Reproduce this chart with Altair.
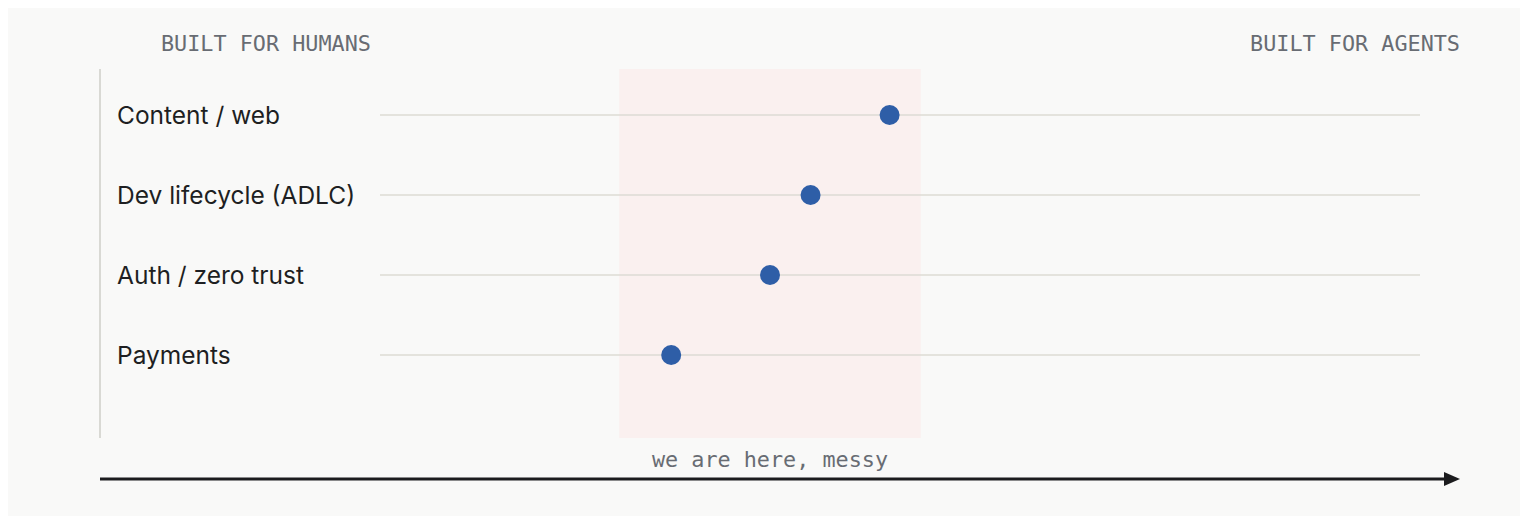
import altair as alt
import pandas as pd

# ---- data ----
categories = ["Content / web", "Dev lifecycle (ADLC)", "Auth / zero trust", "Payments"]
positions = [0.49, 0.414, 0.375, 0.28]
scale_ends = [0.0, 1.0]
band_range = [0.23, 0.52]
band_label = "we are here, messy"
left_header = "BUILT FOR HUMANS"
right_header = "BUILT FOR AGENTS"

df = pd.DataFrame({
    "label": categories,
    "pos": positions,
    "x0": [scale_ends[0]] * len(categories),
    "x1": [scale_ends[1]] * len(categories),
})

BG = "#f9f9f8"
MONO = "DejaVu Sans Mono"
SANS = "Inter"
MONO_COLOR = "#686c73"

xscale = alt.Scale(domain=scale_ends, range=[372, 1412])
yscale = alt.Scale(type="point", domain=categories, range=[107, 347], padding=0)

base = alt.Chart(df)

band = alt.Chart(pd.DataFrame({"a": [band_range[0]], "b": [band_range[1]]})).mark_rect(
    color="#faf0ef"
).encode(
    x=alt.X("a:Q", scale=xscale, axis=None),
    x2="b:Q",
    y=alt.value(61),
    y2=alt.value(430),
)

vline = alt.Chart(pd.DataFrame({"v": [0]})).mark_rule(color="#d9d9d4", strokeWidth=2).encode(
    x=alt.value(92), y=alt.value(61), y2=alt.value(430)
)

grid = base.mark_rule(color="#dcdbd5", strokeWidth=1.6).encode(
    x=alt.X("x0:Q", scale=xscale, axis=None),
    x2="x1:Q",
    y=alt.Y("label:N", scale=yscale, axis=None),
)

dots = base.mark_circle(size=400, opacity=1, color="#2e5ea7").encode(
    x=alt.X("pos:Q", scale=xscale, axis=None),
    y=alt.Y("label:N", scale=yscale, axis=None),
)

labels = base.mark_text(
    align="left", baseline="middle", font=SANS, fontSize=24.5, dy=2, color="#1e1f22"
).encode(
    x=alt.value(109),
    y=alt.Y("label:N", scale=yscale, axis=None),
    text="label:N",
)

band_text = alt.Chart(pd.DataFrame({"a": [band_range[0]], "b": [band_range[1]], "t": [band_label]})).transform_calculate(
    mid="(datum.a + datum.b) / 2"
).mark_text(
    align="center", baseline="middle", font=MONO, fontSize=21.8, dy=1, color=MONO_COLOR
).encode(
    x=alt.X("mid:Q", scale=xscale, axis=None),
    y=alt.value(451),
    text="t:N",
)

headers = alt.Chart(pd.DataFrame({"t": [left_header]})).mark_text(
    align="left", baseline="middle", font=MONO, fontSize=21.8, dy=2, color=MONO_COLOR
).encode(x=alt.value(153), y=alt.value(34), text="t:N")

headers_r = alt.Chart(pd.DataFrame({"t": [right_header]})).mark_text(
    align="right", baseline="middle", font=MONO, fontSize=21.8, dy=2, color=MONO_COLOR
).encode(x=alt.value(1452), y=alt.value(34), text="t:N")

arrow_line = alt.Chart(pd.DataFrame({"v": [0]})).mark_rule(color="#1c1c1e", strokeWidth=3).encode(
    x=alt.value(92), x2=alt.value(1440), y=alt.value(471)
)

arrow_head = alt.Chart(pd.DataFrame({"v": [0]})).mark_point(
    shape="M -1 -0.875 L 1 0 L -1 0.875 Z", filled=True, size=256, color="#1c1c1e", opacity=1
).encode(x=alt.value(1444), y=alt.value(471))

chart = alt.layer(
    band, vline, grid, dots, labels, band_text, headers, headers_r, arrow_line, arrow_head
).properties(
    width=1512,
    height=508,
    background=BG,
    padding=0,
    autosize=alt.AutoSizeParams(type="none"),
).configure_view(stroke=None)

chart.save("out.html", embed_options={"renderer": "svg", "actions": False})
